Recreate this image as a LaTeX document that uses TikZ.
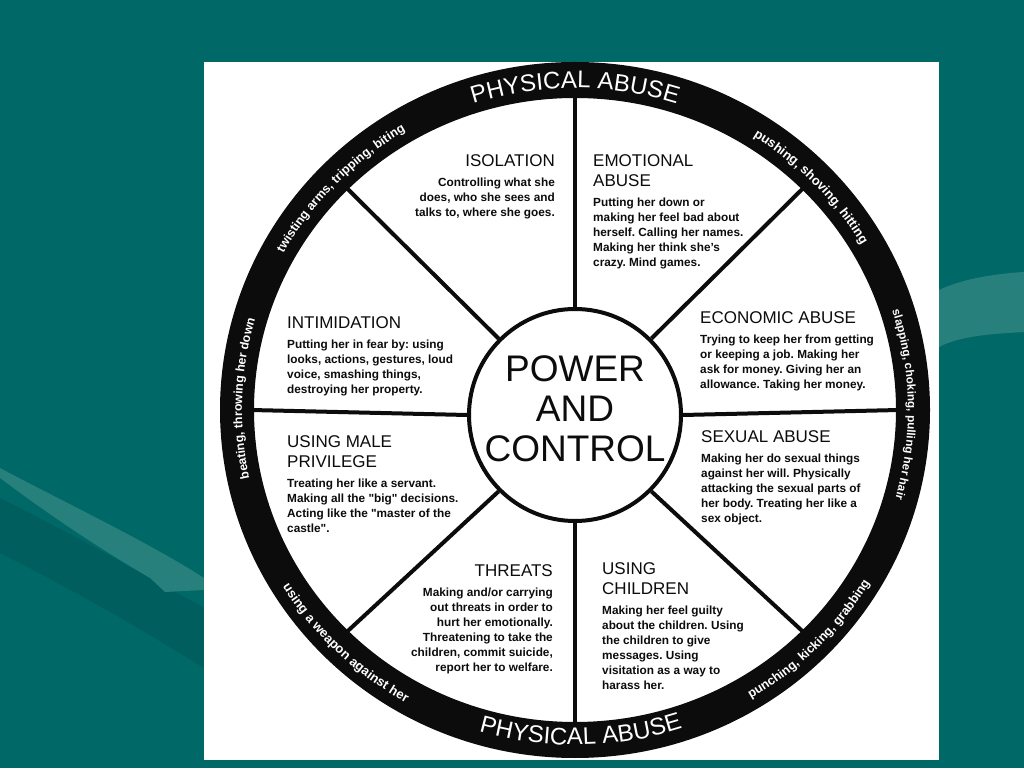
\documentclass[tikz,border=0pt]{standalone}
\usepackage{fontspec}
\setmainfont{Liberation Sans}
\usepackage{tikz}
\usetikzlibrary{positioning, calc, decorations.text}
\definecolor{slideTeal}{RGB}{0, 104, 102}
\definecolor{swooshLight}{RGB}{40, 128, 125}
\definecolor{swooshDark}{RGB}{0, 94, 94}
\definecolor{inkBlack}{RGB}{12, 12, 12}
\frenchspacing

\begin{document}
\begin{tikzpicture}[
    x=1pt, y=1pt,
    head/.style={inner sep=0pt, font=\fontsize{17}{20}\selectfont, align=left, text=inkBlack},
    headR/.style={head, align=right},
    body/.style={inner sep=0pt, font=\fontsize{11.8}{15}\selectfont\bfseries, align=left, text=inkBlack},
    bodyR/.style={body, align=right},
    hub/.style={circle, draw=inkBlack, line width=4pt, fill=white, minimum size=212pt, inner sep=0pt},
    hubtext/.style={inner sep=0pt, font=\fontsize{37}{40}\selectfont, align=center, text=inkBlack},
    spoke/.style={draw=inkBlack, line width=4pt},
    ringtext/.style={decorate, decoration={text along path, text align=center, text color=white}}
  ]
    % slide background
    \useasboundingbox (0,0) rectangle (1024,768);
    \fill[slideTeal] (0,0) rectangle (1024,768);
    \fill[swooshDark] (0,270) .. controls (80,230) and (150,190) .. (204,160) -- (204,100) .. controls (140,140) and (70,180) .. (0,215) -- cycle;
    \fill[swooshLight] (0,300) .. controls (60,268) and (150,225) .. (204,190) -- (204,178) -- (165,176) -- (150,190) .. controls (90,225) and (40,260) .. (0,290) -- cycle;
    \fill[swooshLight] (939,478) .. controls (960,488) and (990,494) .. (1024,496) -- (1024,436) .. controls (990,434) and (960,432) .. (939,421) -- cycle;
    \fill[white] (204,8) rectangle (939,706);

    % wheel
    \coordinate (ctr) at (575,358);
    \fill[inkBlack, even odd rule] (ctr) ellipse[x radius=355pt, y radius=348pt] (ctr) ellipse[x radius=321pt, y radius=312pt];
    \node[hub] (hub) at (575,353) {};
    \foreach \a in {0,45,...,315}{
      \coordinate (rim\a) at ($(ctr)+(\a:324pt and 315pt)$);
      \path[spoke] (hub.\a) -- (rim\a);
    }
    \node[hubtext] (hubLabel) at (575,359) {POWER\\AND\\CONTROL};

    % ring texts
    \path[ringtext, decoration={text={|\fontsize{24}{24}\selectfont|PHYSICAL ABUSE}}]
      ([shift={(130:331pt and 322pt)}]ctr) arc[start angle=130, end angle=50, x radius=331pt, y radius=322pt];
    \path[ringtext, decoration={text={|\fontsize{24}{24}\selectfont|PHYSICAL ABUSE}}]
      ([shift={(-131:344pt and 335pt)}]ctr) arc[start angle=-131, end angle=-47, x radius=344pt, y radius=335pt];
    \path[ringtext, decoration={text={|\fontsize{12.5}{12.5}\selectfont\bfseries|twisting arms, tripping, biting}}]
      ([shift={(166:333pt and 324pt)}]ctr) arc[start angle=166, end angle=106, x radius=333pt, y radius=324pt];
    \path[ringtext, decoration={text={|\fontsize{13}{13}\selectfont\bfseries|pushing, shoving, hitting}}]
      ([shift={(74:333pt and 324pt)}]ctr) arc[start angle=74, end angle=14, x radius=333pt, y radius=324pt];
    \path[ringtext, decoration={text={|\fontsize{11.7}{11.7}\selectfont\bfseries|slapping, choking, pulling her hair}}]
      ([shift={(31:333pt and 324pt)}]ctr) arc[start angle=31, end angle=-29, x radius=333pt, y radius=324pt];
    \path[ringtext, decoration={text={|\fontsize{12.3}{12.3}\selectfont\bfseries|beating, throwing her down}}]
      ([shift={(208:333pt and 324pt)}]ctr) arc[start angle=208, end angle=148, x radius=333pt, y radius=324pt];
    \path[ringtext, decoration={text={|\fontsize{12.6}{12.6}\selectfont\bfseries|punching, kicking, grabbing}}]
      ([shift={(-75:344pt and 336pt)}]ctr) arc[start angle=-75, end angle=-15, x radius=344pt, y radius=336pt];
    \path[ringtext, decoration={text={|\fontsize{13}{13}\selectfont\bfseries|using a weapon against her}}]
      ([shift={(196:344pt and 336pt)}]ctr) arc[start angle=196, end angle=256, x radius=344pt, y radius=336pt];

    % segments
    \node[headR, anchor=north east] (isoHead) at (555,614) {ISOLATION};
    \node[bodyR, below left=11pt and 0pt of isoHead.south east] (isoBody) {Controlling what she\\does, who she sees and\\talks to, where she goes.};

    \node[head, anchor=north west] (emoHead) at (593,614) {EMOTIONAL\\ABUSE};
    \node[body, below right=11pt and 0pt of emoHead.south west] (emoBody) {Putting her down or\\making her feel bad about\\herself. Calling her names.\\Making her think she's\\crazy. Mind games.};

    \node[head, anchor=north west] (ecoHead) at (700,457) {ECONOMIC ABUSE};
    \node[body, below right=11pt and 0pt of ecoHead.south west] (ecoBody) {Trying to keep her from getting\\or keeping a job. Making her\\ask for money. Giving her an\\allowance. Taking her money.};

    \node[head, anchor=north west] (intHead) at (287,452) {INTIMIDATION};
    \node[body, below right=11pt and 0pt of intHead.south west] (intBody) {Putting her in fear by: using\\looks, actions, gestures, loud\\voice, smashing things,\\destroying her property.};

    \node[head, anchor=north west] (malHead) at (287,333) {USING MALE\\PRIVILEGE};
    \node[body, below right=11pt and 0pt of malHead.south west] (malBody) {Treating her like a servant.\\Making all the \textquotedbl big\textquotedbl{} decisions.\\Acting like the \textquotedbl master of the\\castle\textquotedbl.};

    \node[head, anchor=north west] (sexHead) at (701,338) {SEXUAL ABUSE};
    \node[body, below right=11pt and 0pt of sexHead.south west] (sexBody) {Making her do sexual things\\against her will. Physically\\attacking the sexual parts of\\her body. Treating her like a\\sex object.};

    \node[headR, anchor=north east] (thrHead) at (553,204) {THREATS};
    \node[bodyR, below left=11pt and 0pt of thrHead.south east] (thrBody) {Making and/or carrying\\out threats in order to\\hurt her emotionally.\\Threatening to take the\\children, commit suicide,\\report her to welfare.};

    \node[head, anchor=north west] (chiHead) at (602,206) {USING\\CHILDREN};
    \node[body, below right=11pt and 0pt of chiHead.south west] (chiBody) {Making her feel guilty\\about the children. Using\\the children to give\\messages. Using\\visitation as a way to\\harass her.};
  \end{tikzpicture}
\end{document}
